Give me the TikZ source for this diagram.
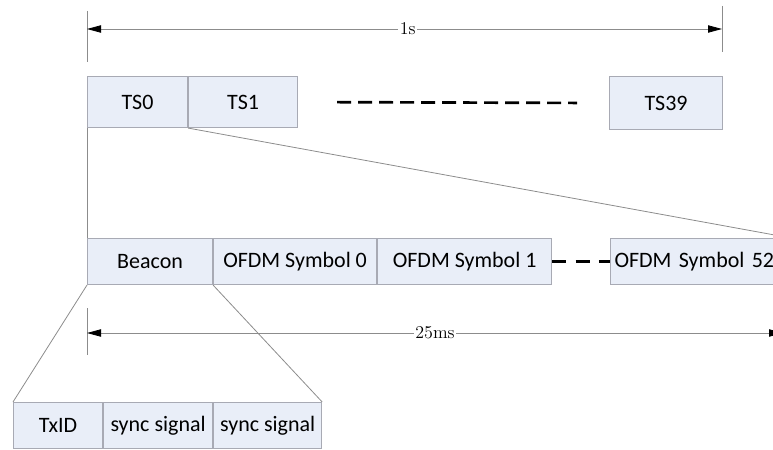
\documentclass[tikz,border=0pt]{standalone}
\usepackage{fontspec}
\newfontfamily\slotfont{Carlito}
\usetikzlibrary{positioning}
\usetikzlibrary{arrows.meta}

\definecolor{slotfill}{RGB}{233,238,248}
\definecolor{slotline}{RGB}{168,170,180}
\definecolor{guide}{RGB}{140,140,140}

\tikzset{
  slot/.style={draw=slotline, fill=slotfill, line width=0.8pt, inner sep=0pt,
    minimum width=#1*0.75pt, font=\slotfont\fontsize{16.5}{19}\selectfont},
  toprow/.style={minimum height=51*0.75pt},
  midrow/.style={minimum height=46*0.75pt},
  guideline/.style={draw=guide, line width=0.6pt},
  gap/.style={draw=black, line width=2pt},
  span/.style={guideline, {Triangle[color=black,length=10.5pt,width=5.5pt]}-{Triangle[color=black,length=10.5pt,width=5.5pt]}},
  spanlabel/.style={fill=white, inner sep=1pt, font=\fontsize{13.5}{16}\selectfont},
}

\begin{document}
\begin{tikzpicture}[x=0.75pt, y=-0.75pt]
            \useasboundingbox (0,0) rectangle (773,449);
            \clip (0,0) rectangle (773,449);

            % Time slots
            \node[slot=100, toprow, anchor=north west] (ts0) at (87,76) {TS0};
            \node[slot=109, toprow, right=0pt of ts0] (ts1) {TS1};
            \node[slot=113, minimum height=53*0.75pt, anchor=north west] (ts39) at (609,76) {TS39};

            % Slot content
            \node[slot=125, midrow, anchor=north west] (beacon) at (87,238) {Beacon};
            \node[slot=163, midrow, right=0pt of beacon] (sym0) {OFDM Symbol 0};
            \node[slot=174, midrow, right=0pt of sym0] (sym1) {OFDM Symbol 1};
            \node[slot=180, midrow, anchor=north west, align=left, text width=172*0.75pt,
                inner xsep=4*0.75pt] (sym52) at (610,238) {OFDM Symbol 52};

            % Beacon content
            \node[slot=89, midrow, anchor=north west] (txid) at (13,402) {TxID};
            \node[slot=109, midrow, right=0pt of txid] (sync1) {sync signal};
            \node[slot=108, midrow, right=0pt of sync1] (sync2) {sync signal};

            % Zoom lines
            \draw[guideline] (ts0.south west) -- (beacon.north west);
            \draw[guideline] (ts1.south west) -- (sym52.north east);
            \draw[guideline] (beacon.south west) -- (txid.north west);
            \draw[guideline] (beacon.south east) -- (sync2.north east);

            % Gaps
            \draw[gap, dash pattern=on 10.5pt off 5.25pt, shorten <=39*0.75pt, shorten >=32*0.75pt]
                (ts1.east) -- (ts39.west);
            \draw[gap, dash pattern=on 10.5pt off 7pt] (sym1.east) -- (sym52.west);

            % Durations
            \coordinate (s1top) at (87,11);
            \coordinate (s1bot) at (87,62);
            \coordinate (e1top) at (722,6);
            \coordinate (e1bot) at (722,52);
            \draw[guideline] (s1top) -- (s1bot);
            \draw[guideline] (e1top) -- (e1bot);
            \coordinate (s1) at (87,29);
            \coordinate (e1) at (722,29);
            \draw[span] (s1) -- (e1) node[spanlabel, pos=0.505] (onesec) {1s};

            \coordinate (s2top) at (87,308);
            \coordinate (s2bot) at (87,355);
            \draw[guideline] (s2top) -- (s2bot);
            \coordinate (s2) at (87,333);
            \coordinate (e2) at (783,333);
            \draw[span] (s2) -- (e2) node[spanlabel, pos=0.5] (frame) {25ms};
\end{tikzpicture}
\end{document}
